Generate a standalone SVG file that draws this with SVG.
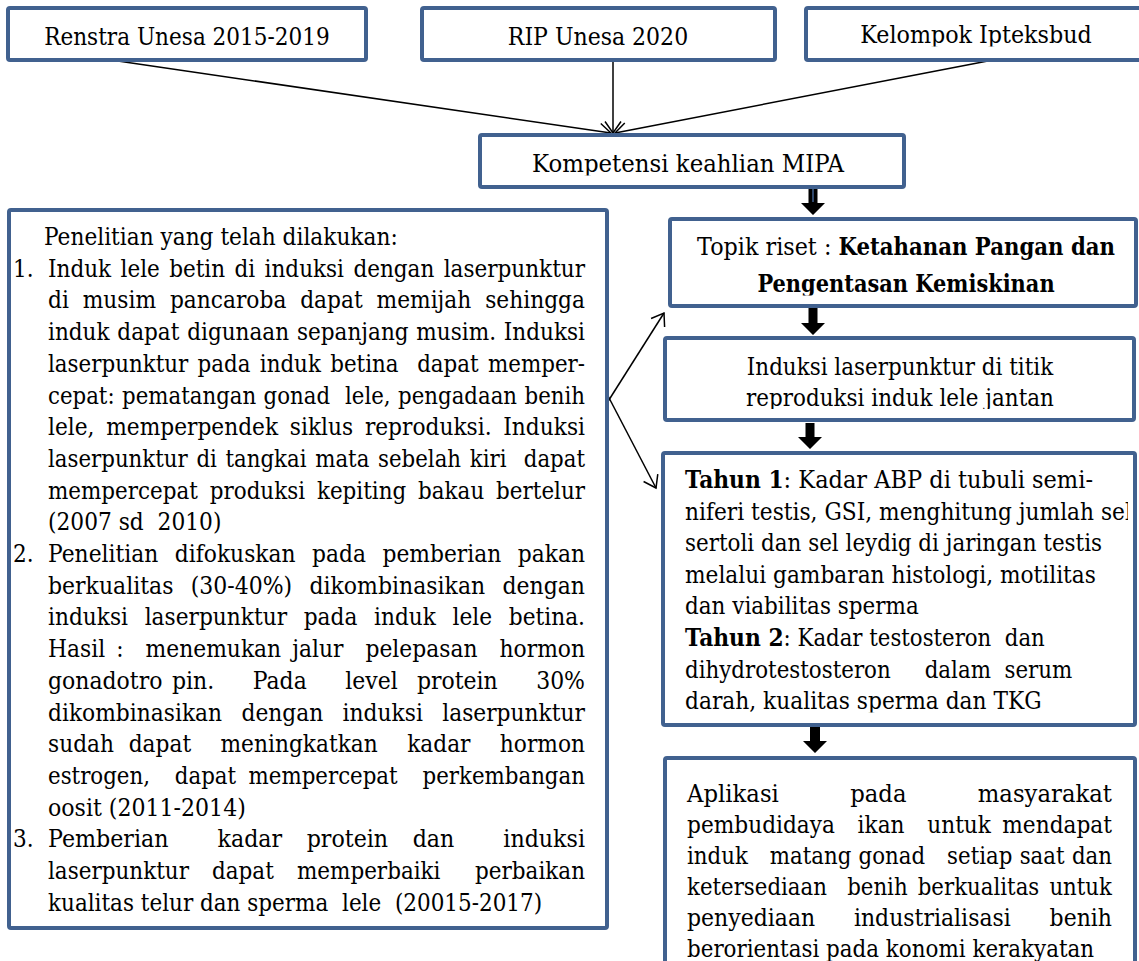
<svg xmlns="http://www.w3.org/2000/svg" width="1139" height="961" viewBox="0 0 1139 961" font-family="DejaVu Serif, serif">
<style>
.box{fill:#fff;stroke:#41618f;stroke-width:4;stroke-linejoin:round}
.t{font-family:'DejaVu Serif',serif;font-size:25px;fill:#000}
.c{text-anchor:middle}
.b{font-weight:bold}
.ln{stroke:#000;stroke-width:1.5;fill:none}
.blk{fill:#000}
</style>
<defs>
<marker id="arr" markerUnits="userSpaceOnUse" markerWidth="20" markerHeight="20" refX="15" refY="10" orient="auto">
<path d="M3.5,2 L15,10 L3.5,18" fill="none" stroke="#000" stroke-width="1.5"/>
</marker>
<clipPath id="ckel"><rect x="808" y="10" width="340" height="36.5"/></clipPath>
<clipPath id="ckom"><rect x="482" y="137" width="420" height="38.5"/></clipPath>
<clipPath id="ctop"><rect x="672" y="221" width="462" height="74.5"/></clipPath>
<clipPath id="cind"><rect x="667" y="340" width="465" height="69"/></clipPath>
<clipPath id="ctah"><rect x="665" y="455" width="463" height="257.5"/></clipPath>
</defs>
<rect width="1139" height="961" fill="#fff"/>

<g id="connectors">
<line class="ln" x1="111" y1="60" x2="611" y2="133" marker-end="url(#arr)"/>
<line class="ln" x1="613" y1="60" x2="613" y2="133" marker-end="url(#arr)"/>
<line class="ln" x1="993" y1="60" x2="615" y2="133" marker-end="url(#arr)"/>
<line class="ln" x1="607" y1="403" x2="664" y2="313" marker-end="url(#arr)"/>
<line class="ln" x1="607" y1="394" x2="656" y2="488" marker-end="url(#arr)"/>
<path class="blk" d="M808.5,188 H817.5 V203 H825 L813,215 L801,203 H808.5 Z"/>
<line x1="813" y1="188" x2="813" y2="202" stroke="#41618f" stroke-width="1.5"/>
<path class="blk" d="M808.5,308 H817.5 V323 H825 L813,335 L801,323 H808.5 Z"/>
<path class="blk" d="M805.5,423 H814.5 V437 H822 L810,449 L798,437 H805.5 Z"/>
<path class="blk" d="M810,726 H820 V741 H827 L815,753 L803,741 H810 Z"/>
</g>

<g id="node-renstra">
<rect class="box" x="8" y="8" width="358" height="52" rx="2"/>
<text class="t c" x="187" y="45" textLength="285.6" lengthAdjust="spacingAndGlyphs">Renstra Unesa 2015-2019</text>
</g>
<g id="node-rip">
<rect class="box" x="422" y="8" width="353" height="52" rx="2"/>
<text class="t c" x="598" y="45" textLength="180.3" lengthAdjust="spacingAndGlyphs">RIP Unesa 2020</text>
</g>
<g id="node-kelompok">
<rect class="box" x="806" y="8" width="345" height="52" rx="2"/>
<text class="t c" x="976" y="43" clip-path="url(#ckel)" textLength="231.4" lengthAdjust="spacingAndGlyphs">Kelompok Ipteksbud</text>
</g>
<g id="node-kompetensi">
<rect class="box" x="480" y="135" width="424" height="52" rx="2"/>
<text class="t c" x="688" y="172" clip-path="url(#ckom)" textLength="312" lengthAdjust="spacingAndGlyphs">Kompetensi keahlian MIPA</text>
</g>

<g id="node-penelitian">
<rect class="box" x="9" y="210" width="598" height="718" rx="2"/>
<text class="t" x="44" y="245" textLength="353.7" lengthAdjust="spacingAndGlyphs">Penelitian yang telah dilakukan:</text>
<text class="t" x="13" y="276.7" textLength="20.6" lengthAdjust="spacingAndGlyphs">1.</text>
<text class="t" x="48" y="276.7" xml:space="preserve" word-spacing="2.94" textLength="537" lengthAdjust="spacingAndGlyphs">Induk lele betin di induksi dengan laserpunktur</text>
<text class="t" x="48" y="308.4" xml:space="preserve" word-spacing="7.95" textLength="537" lengthAdjust="spacingAndGlyphs">di musim pancaroba dapat memijah sehingga</text>
<text class="t" x="48" y="340.1" xml:space="preserve" word-spacing="1.07" textLength="537" lengthAdjust="spacingAndGlyphs">induk dapat digunaan sepanjang musim. Induksi</text>
<text class="t" x="48" y="371.8" xml:space="preserve" word-spacing="2.94" textLength="537" lengthAdjust="spacingAndGlyphs">laserpunktur pada induk betina  dapat memper-</text>
<text class="t" x="48" y="403.5" xml:space="preserve" word-spacing="0.79" textLength="537" lengthAdjust="spacingAndGlyphs">cepat: pematangan gonad  lele, pengadaan benih</text>
<text class="t" x="48" y="435.2" xml:space="preserve" word-spacing="5.55" textLength="537" lengthAdjust="spacingAndGlyphs">lele, memperpendek siklus reproduksi. Induksi</text>
<text class="t" x="48" y="466.9" xml:space="preserve" word-spacing="2.2" textLength="537" lengthAdjust="spacingAndGlyphs">laserpunktur di tangkai mata sebelah kiri  dapat</text>
<text class="t" x="48" y="498.6" xml:space="preserve" word-spacing="5.95" textLength="537" lengthAdjust="spacingAndGlyphs">mempercepat produksi kepiting bakau bertelur</text>
<text class="t" x="48" y="530.3" xml:space="preserve" textLength="173.4" lengthAdjust="spacingAndGlyphs">(2007 sd  2010)</text>
<text class="t" x="13" y="562" textLength="20.6" lengthAdjust="spacingAndGlyphs">2.</text>
<text class="t" x="48" y="562" xml:space="preserve" word-spacing="10.9" textLength="537" lengthAdjust="spacingAndGlyphs">Penelitian difokuskan pada pemberian pakan</text>
<text class="t" x="48" y="593.7" xml:space="preserve" word-spacing="11.7" textLength="537" lengthAdjust="spacingAndGlyphs">berkualitas (30-40%) dikombinasikan dengan</text>
<text class="t" x="48" y="625.4" xml:space="preserve" word-spacing="11.17" textLength="537" lengthAdjust="spacingAndGlyphs">induksi laserpunktur pada induk lele betina.</text>
<text class="t" x="48" y="657.1" xml:space="preserve" word-spacing="4.69" textLength="537" lengthAdjust="spacingAndGlyphs">Hasil :  menemukan jalur  pelepasan  hormon</text>
<text class="t" x="48" y="688.8" xml:space="preserve" word-spacing="3.0" textLength="537" lengthAdjust="spacingAndGlyphs">gonadotro pin.    Pada    level  protein    30%</text>
<text class="t" x="48" y="720.5" xml:space="preserve" word-spacing="14.25" textLength="537" lengthAdjust="spacingAndGlyphs">dikombinasikan dengan induksi laserpunktur</text>
<text class="t" x="48" y="752.2" xml:space="preserve" word-spacing="8.95" textLength="537" lengthAdjust="spacingAndGlyphs">sudah dapat  meningkatkan  kadar  hormon</text>
<text class="t" x="48" y="783.9" xml:space="preserve" word-spacing="6.6" textLength="537" lengthAdjust="spacingAndGlyphs">estrogen,  dapat mempercepat  perkembangan</text>
<text class="t" x="48" y="815.6" textLength="197.8" lengthAdjust="spacingAndGlyphs">oosit (2011-2014)</text>
<text class="t" x="13" y="847.3" textLength="20.6" lengthAdjust="spacingAndGlyphs">3.</text>
<text class="t" x="48" y="847.3" xml:space="preserve" word-spacing="19.7" textLength="537" lengthAdjust="spacingAndGlyphs">Pemberian  kadar protein dan  induksi</text>
<text class="t" x="48" y="879" xml:space="preserve" word-spacing="5.47" textLength="537" lengthAdjust="spacingAndGlyphs">laserpunktur  dapat  memperbaiki   perbaikan</text>
<text class="t" x="48" y="910.7" xml:space="preserve" textLength="494.1" lengthAdjust="spacingAndGlyphs">kualitas telur dan sperma  lele  (20015-2017)</text>
</g>

<g id="node-topik">
<rect class="box" x="670" y="219" width="466" height="87" rx="2"/>
<text class="t" x="697" y="255" textLength="134.4" lengthAdjust="spacingAndGlyphs">Topik riset :</text>
<text class="t b" x="838.4" y="255" textLength="276.6" lengthAdjust="spacingAndGlyphs">Ketahanan Pangan dan</text>
<text class="t c b" x="906" y="292" clip-path="url(#ctop)" textLength="297.2" lengthAdjust="spacingAndGlyphs">Pengentasan Kemiskinan</text>
</g>

<g id="node-induksi">
<rect class="box" x="665" y="338" width="469" height="82" rx="2"/>
<text class="t c" x="900" y="375" textLength="306.3" lengthAdjust="spacingAndGlyphs">Induksi laserpunktur di titik</text>
<text class="t c" x="900" y="405.5" clip-path="url(#cind)" textLength="307.8" lengthAdjust="spacingAndGlyphs">reproduksi induk lele jantan</text>
</g>

<g id="node-tahun">
<rect class="box" x="663" y="453" width="472" height="272" rx="2"/>
<text class="t b" x="685" y="488" textLength="98.6" lengthAdjust="spacingAndGlyphs">Tahun 1</text>
<text class="t" x="783.6" y="488" textLength="309.4" lengthAdjust="spacingAndGlyphs">: Kadar ABP di tubuli semi-</text>
<text class="t" x="685" y="519.6" clip-path="url(#ctah)" textLength="446.9" lengthAdjust="spacingAndGlyphs">niferi testis, GSI, menghitung jumlah sel</text>
<text class="t" x="685" y="551.2" textLength="417.1" lengthAdjust="spacingAndGlyphs">sertoli dan sel leydig di jaringan testis</text>
<text class="t" x="685" y="582.8" textLength="410.9" lengthAdjust="spacingAndGlyphs">melalui gambaran histologi, motilitas</text>
<text class="t" x="685" y="614.4" textLength="233.7" lengthAdjust="spacingAndGlyphs">dan viabilitas sperma</text>
<text class="t b" x="685" y="646" textLength="98.6" lengthAdjust="spacingAndGlyphs">Tahun 2</text>
<text class="t" x="783.6" y="646" xml:space="preserve" textLength="261.2" lengthAdjust="spacingAndGlyphs">: Kadar testosteron  dan</text>
<text class="t" x="685" y="677.6" xml:space="preserve" textLength="387.3" lengthAdjust="spacingAndGlyphs">dihydrotestosteron     dalam  serum</text>
<text class="t" x="685" y="709.2" clip-path="url(#ctah)" textLength="356.6" lengthAdjust="spacingAndGlyphs">darah, kualitas sperma dan TKG</text>
</g>

<g id="node-aplikasi">
<rect class="box" x="665" y="758" width="470" height="220" rx="2"/>
<text class="t" x="687" y="802" xml:space="preserve" word-spacing="70.4" textLength="425" lengthAdjust="spacingAndGlyphs">Aplikasi pada masyarakat</text>
<text class="t" x="687" y="833" xml:space="preserve" word-spacing="5.1" textLength="425" lengthAdjust="spacingAndGlyphs">pembudidaya  ikan  untuk mendapat</text>
<text class="t" x="687" y="864" xml:space="preserve" word-spacing="0.6" textLength="425" lengthAdjust="spacingAndGlyphs">induk   matang gonad   setiap saat dan</text>
<text class="t" x="687" y="895" xml:space="preserve" word-spacing="3.9" textLength="425" lengthAdjust="spacingAndGlyphs">ketersediaan  benih berkualitas untuk</text>
<text class="t" x="687" y="926" xml:space="preserve" word-spacing="36.1" textLength="425" lengthAdjust="spacingAndGlyphs">penyediaan industrialisasi benih</text>
<text class="t" x="687" y="957" textLength="407.1" lengthAdjust="spacingAndGlyphs">berorientasi pada konomi kerakyatan</text>
</g>
</svg>
